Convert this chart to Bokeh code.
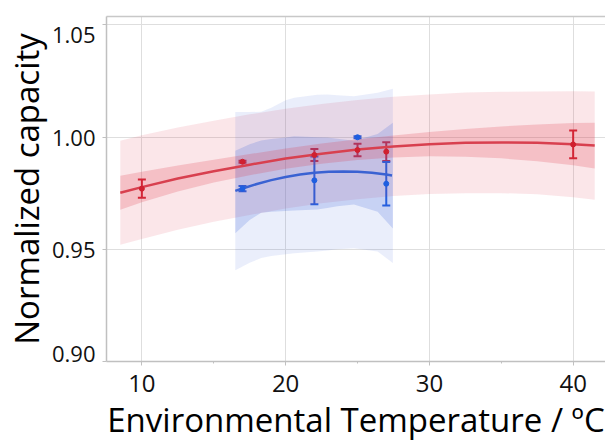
from bokeh.plotting import figure
from bokeh.models import (ColumnDataSource, Whisker, TeeHead, LinearAxis,
                          FixedTicker, Range1d, NumeralTickFormatter)
from bokeh.embed import file_html
from bokeh.resources import INLINE

# ---------------- data ----------------
temps_red = [10, 17, 22, 25, 27, 40]
cap_red = [0.9770, 0.9890, 0.9920, 0.9942, 0.9935, 0.9967]
err_red = [0.0041, 0.0004, 0.0027, 0.0028, 0.0042, 0.0062]

temps_blue = [17, 22, 25, 27]
cap_blue = [0.9770, 0.9807, 0.9999, 0.9792]
err_blue = [0.0012, 0.0106, 0.0004, 0.0097]

red_fit_x = [8.5, 10, 12.5, 15, 17.5, 20, 22.5, 25, 27.5, 30, 32.5, 35, 37.5, 40, 41.5]
red_fit_y = [0.9752, 0.9777, 0.9815, 0.9848, 0.9877, 0.9904, 0.9926, 0.9944,
             0.9958, 0.9968, 0.9974, 0.9976, 0.9974, 0.9968, 0.9962]
red_ci_lo = [0.9676, 0.9709, 0.9757, 0.9797, 0.9830, 0.9859, 0.9881, 0.9898,
             0.9909, 0.9914, 0.9912, 0.9905, 0.9892, 0.9874, 0.9860]
red_ci_hi = [0.9828, 0.9845, 0.9873, 0.9899, 0.9924, 0.9949, 0.9971, 0.9990,
             1.0007, 1.0022, 1.0036, 1.0047, 1.0056, 1.0062, 1.0064]
red_pi_lo = [0.9520, 0.9546, 0.9587, 0.9623, 0.9653, 0.9682, 0.9705, 0.9723,
             0.9737, 0.9746, 0.9750, 0.9750, 0.9745, 0.9732, 0.9721]
red_pi_hi = [0.9984, 1.0008, 1.0043, 1.0073, 1.0101, 1.0126, 1.0147, 1.0165,
             1.0179, 1.0190, 1.0198, 1.0202, 1.0203, 1.0204, 1.0203]

blue_fit_x = [16.5, 17, 18, 19, 20, 21, 22, 23, 24, 25, 26, 27, 27.4]
blue_fit_y = [0.9760, 0.9771, 0.9791, 0.9808, 0.9822, 0.9833, 0.9841, 0.9845,
              0.9847, 0.9845, 0.9841, 0.9833, 0.9829]

blue_band_x = [16.5, 17.5, 18.3, 19.0, 20.0, 20.6, 22.2, 22.9, 23.6, 24.75, 26.4, 27.46]
blue_ci_lo = [0.9571, 0.9630, 0.9663, 0.9667, 0.9671, 0.9673, 0.9677, 0.9684,
              0.9692, 0.9700, 0.9667, 0.9593]
blue_ci_hi = [0.9939, 0.9968, 0.9985, 0.9991, 0.9998, 1.0003, 0.9999, 0.9998,
              0.9992, 0.9983, 1.0013, 1.0064]
blue_pi_lo = [0.9406, 0.9440, 0.9461, 0.9470, 0.9478, 0.9482, 0.9490, 0.9495,
              0.9500, 0.9505, 0.9490, 0.9439]
blue_pi_hi = [1.0111, 1.0111, 1.0113, 1.0130, 1.0164, 1.0175, 1.0188, 1.0190,
              1.0186, 1.0182, 1.0197, 1.0215]

y_ticks = [0.90, 0.95, 1.00, 1.05]
x_ticks = [10, 20, 30, 40]
x_minor_ticks = [15, 25, 35]

RED = "#dc3246"
RED_LINE = "#d8404f"
RED_BAR = "#d0202f"
BLUE = "#3c64dc"
BLUE_LINE = "#3a62d2"
BLUE_BAR = "#1f5fe0"
FONT = "Open Sans"

X0, X1 = 7.54, 42.25
Y0, Y1 = 0.90, 1.0537

# ---------------- figure ----------------
p = figure(width=605, height=444, output_backend="svg", toolbar_location=None,
           x_range=Range1d(X0, X1), y_range=Range1d(Y0, Y1),
           min_border_left=103, min_border_right=0, min_border_top=16,
           min_border_bottom=80)
p.outline_line_color = None

# bands
p.varea(x=red_fit_x, y1=red_pi_lo, y2=red_pi_hi, fill_color=RED, fill_alpha=0.12)
p.varea(x=blue_band_x, y1=blue_pi_lo, y2=blue_pi_hi, fill_color=BLUE, fill_alpha=0.11)
p.varea(x=blue_band_x, y1=blue_ci_lo, y2=blue_ci_hi, fill_color=BLUE, fill_alpha=0.20)
p.varea(x=red_fit_x, y1=red_ci_lo, y2=red_ci_hi, fill_color=RED, fill_alpha=0.21)

# fit lines
p.line(red_fit_x, red_fit_y, line_color=RED_LINE, line_width=2.5)
p.line(blue_fit_x, blue_fit_y, line_color=BLUE_LINE, line_width=2.5)

# error bars
def add_err(xs, ys, es, color):
    src = ColumnDataSource(dict(x=xs, y=ys,
                                lo=[a - b for a, b in zip(ys, es)],
                                hi=[a + b for a, b in zip(ys, es)]))
    w = Whisker(source=src, base="x", lower="lo", upper="hi",
                line_color=color, line_width=2,
                upper_head=TeeHead(size=8, line_color=color, line_width=2),
                lower_head=TeeHead(size=8, line_color=color, line_width=2))
    p.add_layout(w)
    p.scatter("x", "y", source=src, size=5, color=color)

add_err(temps_red, cap_red, err_red, RED_BAR)
add_err(temps_blue, cap_blue, err_blue, BLUE_BAR)

# axes
p.xaxis.ticker = FixedTicker(ticks=x_ticks, minor_ticks=x_minor_ticks)
p.yaxis.ticker = FixedTicker(ticks=y_ticks)
p.yaxis.formatter = NumeralTickFormatter(format="0.00")
# end labels are kept inside the axis extent (pulled toward the middle)
p.yaxis.major_label_overrides = {y_ticks[0]: f"{y_ticks[0]:.2f}\n",
                                 y_ticks[-1]: f"\n{y_ticks[-1]:.2f}"}
p.xaxis.axis_label = "Environmental Temperature / ºC"
p.yaxis.axis_label = "Normalized capacity"

for ax in (p.xaxis[0], p.yaxis[0]):
    ax.axis_label_text_font = FONT
    ax.axis_label_text_font_size = "33px"
    ax.axis_label_text_font_style = "normal"
    ax.axis_label_text_color = "#000000"
    ax.major_label_text_font = FONT
    ax.major_label_text_color = "#111111"
    ax.axis_line_color = "#c0c0c0"
    ax.axis_line_width = 1.5
    ax.major_tick_line_color = "#c0c0c0"
    ax.minor_tick_line_color = "#c0c0c0"
    ax.major_tick_in = 0
    ax.major_tick_out = 4
    ax.minor_tick_in = 0
    ax.minor_tick_out = 2

p.xaxis.major_label_text_font_size = "24px"
p.yaxis.major_label_text_font_size = "22px"
p.yaxis.major_label_text_line_height = 0.58
p.xaxis.major_label_standoff = 9
p.yaxis.major_label_standoff = 7
p.xaxis.axis_label_standoff = 2
p.yaxis.axis_label_standoff = 0
p.yaxis.minor_tick_line_color = None

top = LinearAxis(ticker=FixedTicker(ticks=[]), axis_line_color="#c8c8c8",
                 axis_line_width=1.5, major_tick_line_color=None,
                 minor_tick_line_color=None, major_label_text_font_size="0px")
p.add_layout(top, "above")

p.xgrid.grid_line_color = "#dedede"
p.ygrid.grid_line_color = "#dedede"

open("out.html", "w").write(file_html(p, INLINE))
